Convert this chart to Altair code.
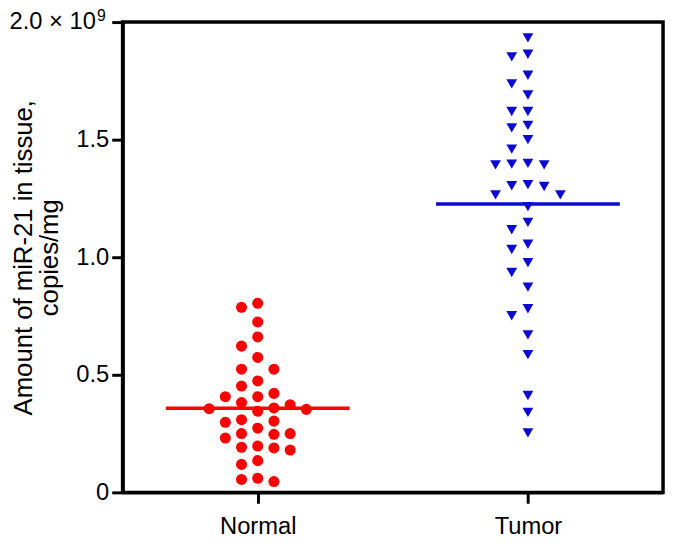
import altair as alt
import pandas as pd

# ---- data (values in units of 1e9 copies/mg) ----
groups = ["Normal", "Tumor"]
normal_values = [0.804, 0.787, 0.725, 0.661, 0.622, 0.574, 0.524, 0.524, 0.474, 0.452,
                 0.421, 0.407, 0.407, 0.382, 0.373, 0.359, 0.356, 0.353, 0.345, 0.309,
                 0.303, 0.298, 0.273, 0.250, 0.250, 0.247, 0.231, 0.197, 0.192, 0.189,
                 0.180, 0.135, 0.119, 0.060, 0.055, 0.046]
tumor_values = [1.933, 1.863, 1.852, 1.774, 1.737, 1.690, 1.620, 1.620, 1.561, 1.550,
                1.500, 1.460, 1.399, 1.396, 1.393, 1.393, 1.309, 1.304, 1.301, 1.265,
                1.265, 1.215, 1.148, 1.117, 1.055, 1.033, 0.977, 0.935, 0.873, 0.781,
                0.751, 0.670, 0.586, 0.412, 0.340, 0.253]
center_lines = [0.358, 1.226]
y_ticks = [0, 0.5, 1.0, 1.5, 2.0]
SCALE = 1e9

# ---- layout constants ----
W, H = 547, 476
X_DOMAIN = [0.5, 2.5]
Y_DOMAIN = [0, 2.0 * SCALE]
px_x = W / (X_DOMAIN[1] - X_DOMAIN[0])
px_y = H / (Y_DOMAIN[1] - Y_DOMAIN[0]) * SCALE
slot_w = 16.4 / px_x
min_gap = 13.0
half_line = 93 / px_x


def swarm(vals):
    """Simple column-slot beeswarm: each point takes the nearest free slot."""
    placed = {}
    slots = []
    order = [0, -1, 1, -2, 2, -3, 3, -4, 4, -5, 5]
    for v in vals:
        y = v * px_y
        for s in order:
            if all(abs(y - yy) >= min_gap for yy in placed.get(s, [])):
                placed.setdefault(s, []).append(y)
                slots.append(s)
                break
    return slots


rows = []
for gi, (g, vals) in enumerate(zip(groups, [normal_values, tumor_values]), start=1):
    for v, s in zip(vals, swarm(vals)):
        rows.append({"group": g, "x": gi + s * slot_w, "value": v * SCALE})
pts = pd.DataFrame(rows)

lines = pd.DataFrame({
    "group": groups,
    "x1": [i + 1 - half_line for i in range(len(groups))],
    "x2": [i + 1 + half_line for i in range(len(groups))],
    "value": [c * SCALE for c in center_lines],
})

FONT = "Liberation Sans"
RED = "#ff0000"
BLUE = "#0b0bcf"

label_expr_x = " : ".join(
    [f"datum.value == {i + 1} ? '{g}'" for i, g in enumerate(groups[:-1])] + [f"'{groups[-1]}'"]
)

x_enc = alt.X("x:Q", scale=alt.Scale(domain=X_DOMAIN, nice=False, zero=False),
              axis=alt.Axis(values=[1, 2], labelExpr=label_expr_x, title=None, grid=False,
                            tickSize=11, labelPadding=12))
y_enc = alt.Y("value:Q", scale=alt.Scale(domain=Y_DOMAIN, nice=False),
              axis=alt.Axis(values=[t * SCALE for t in y_ticks],
                            labelExpr="datum.value == 0 ? '0' : (datum.value >= 2e9 ? '' : format(datum.value / 1e9, '.1f'))",
                            title=["Amount of miR-21 in tissue,", "copies/mg"],
                            grid=False, tickSize=11, labelPadding=3, titlePadding=14,
                            titleFontSize=26, titleLineHeight=26))

normal_layer = alt.Chart(pts).transform_filter(alt.datum.group == groups[0]).mark_circle(
    size=125, color=RED, opacity=1
).encode(x=x_enc, y=y_enc)

tumor_layer = alt.Chart(pts).transform_filter(alt.datum.group == groups[1]).mark_point(
    shape="triangle-down", filled=True, size=120, color=BLUE, opacity=1
).encode(x="x:Q", y="value:Q")

line_layer = alt.Chart(lines).mark_rule(strokeWidth=3.5).encode(
    x="x1:Q", x2="x2:Q", y="value:Q",
    color=alt.Color("group:N", scale=alt.Scale(domain=groups, range=[RED, BLUE]), legend=None),
)

top_df = pd.DataFrame({"value": [y_ticks[-1] * SCALE], "mant": ["2.0 × 10"], "exp": ["9"]})
top_main = alt.Chart(top_df).mark_text(
    align="right", baseline="middle", font=FONT, fontSize=24, color="black"
).encode(x=alt.value(-27), y="value:Q", text="mant:N")
top_exp = alt.Chart(top_df).mark_text(
    align="left", baseline="middle", font=FONT, fontSize=16, color="black", dy=-6
).encode(x=alt.value(-26), y="value:Q", text="exp:N")

chart = alt.layer(normal_layer, tumor_layer, line_layer, top_main, top_exp).properties(
    width=W, height=H,
    padding={"left": 116, "top": 11, "right": 4, "bottom": 50},
    autosize=alt.AutoSizeParams(type="none"),
).configure_view(
    stroke="black", strokeWidth=3.5
).configure_axis(
    domainColor="black", domainWidth=3.5, tickColor="black", tickWidth=3,
    labelFont=FONT, labelFontSize=24, labelColor="black",
    titleFont=FONT, titleFontSize=24, titleColor="black", titleFontWeight="normal",
)

chart.save("out.html", embed_options={"renderer": "svg", "actions": False})
